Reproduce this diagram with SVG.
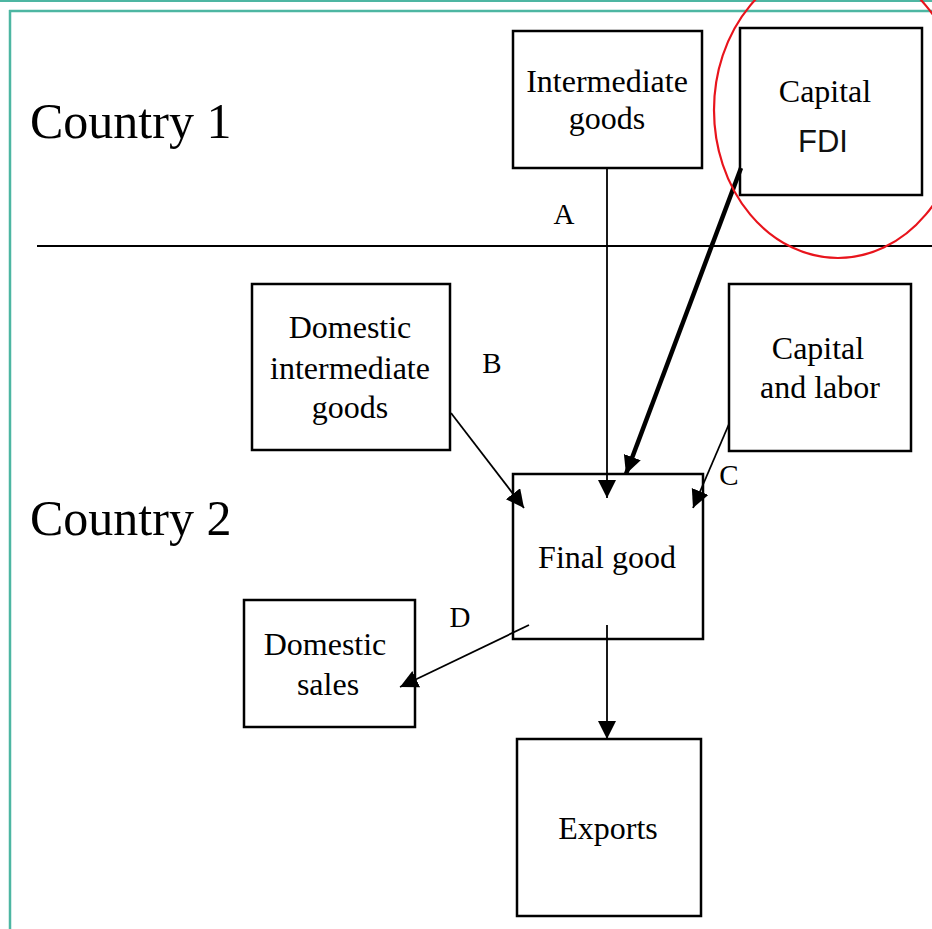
<svg xmlns="http://www.w3.org/2000/svg" width="932" height="929" viewBox="0 0 932 929">
<style>
.box{fill:#fff;stroke:#000;stroke-width:2.5}
.t{font-family:"Liberation Serif","Times New Roman",serif;fill:#000;text-anchor:middle;font-size:32px}
.big{font-family:"Liberation Serif","Times New Roman",serif;fill:#000;font-size:50px}
.lbl{font-family:"Liberation Serif","Times New Roman",serif;fill:#000;text-anchor:middle;font-size:29px}
.c{fill:none;stroke:#000;stroke-width:1.8}
.teal{stroke:#4db6a2;fill:none}
</style>
<defs>
<marker id="ah" markerUnits="userSpaceOnUse" markerWidth="20" markerHeight="20" refX="18" refY="9" orient="auto">
<path d="M0,0 L18,9 L0,18 z" fill="#000"/>
</marker>
</defs>
<rect width="932" height="929" fill="#fff"/>
<g id="frame">
<line class="teal" x1="0" y1="1" x2="932" y2="1" stroke-width="2"/>
<line class="teal" x1="9" y1="11" x2="932" y2="11" stroke-width="2.5"/>
<line class="teal" x1="10" y1="10" x2="10" y2="929" stroke-width="2.5"/>
</g>
<g id="border-line">
<line x1="37" y1="246" x2="932" y2="246" stroke="#000" stroke-width="2"/>
</g>
<text class="big" x="30" y="138">Country 1</text>
<text class="big" x="30" y="535">Country 2</text>
<g id="intermediate-goods">
<rect class="box" x="513" y="31" width="189" height="137"/>
<text class="t" x="607" y="92">Intermediate</text>
<text class="t" x="607" y="129">goods</text>
</g>
<g id="capital-fdi">
<rect class="box" x="740" y="28" width="182" height="167"/>
<text class="t" x="825" y="102">Capital</text>
<text x="823" y="152" text-anchor="middle" font-family="'Liberation Sans',Arial,sans-serif" font-size="31" fill="#111">FDI</text>
</g>
<g id="domestic-intermediate-goods">
<rect class="box" x="252" y="284" width="198" height="166"/>
<text class="t" x="350" y="338">Domestic</text>
<text class="t" x="350" y="379">intermediate</text>
<text class="t" x="350" y="418">goods</text>
</g>
<g id="capital-labor">
<rect class="box" x="729" y="284" width="182" height="167"/>
<text class="t" x="818" y="359">Capital</text>
<text class="t" x="820" y="398">and labor</text>
</g>
<g id="final-good">
<rect class="box" x="513" y="474" width="190" height="165"/>
<text class="t" x="607" y="568">Final good</text>
</g>
<g id="domestic-sales">
<rect class="box" x="244" y="600" width="171" height="127"/>
<text class="t" x="325" y="655">Domestic</text>
<text class="t" x="328" y="695">sales</text>
</g>
<g id="exports">
<rect class="box" x="517" y="739" width="184" height="177"/>
<text class="t" x="608" y="839">Exports</text>
</g>
<g id="connectors">
<line class="c" x1="607" y1="168" x2="607" y2="498" marker-end="url(#ah)"/>
<line x1="741" y1="168" x2="626" y2="474" stroke="#000" stroke-width="4.5" marker-end="url(#ah)"/>
<line class="c" x1="451" y1="413" x2="524" y2="508" marker-end="url(#ah)"/>
<line class="c" x1="729" y1="424" x2="693" y2="508" marker-end="url(#ah)"/>
<line class="c" x1="529" y1="625" x2="400" y2="687" marker-end="url(#ah)"/>
<line class="c" x1="607" y1="625" x2="607" y2="739" marker-end="url(#ah)"/>
<text class="lbl" x="564" y="224">A</text>
<text class="lbl" x="492" y="373">B</text>
<text class="lbl" x="729" y="485">C</text>
<text class="lbl" x="460" y="627">D</text>
</g>
<g id="highlight">
<ellipse cx="838" cy="110" rx="124" ry="148" fill="none" stroke="#e8141c" stroke-width="2.2"/>
</g>
</svg>
